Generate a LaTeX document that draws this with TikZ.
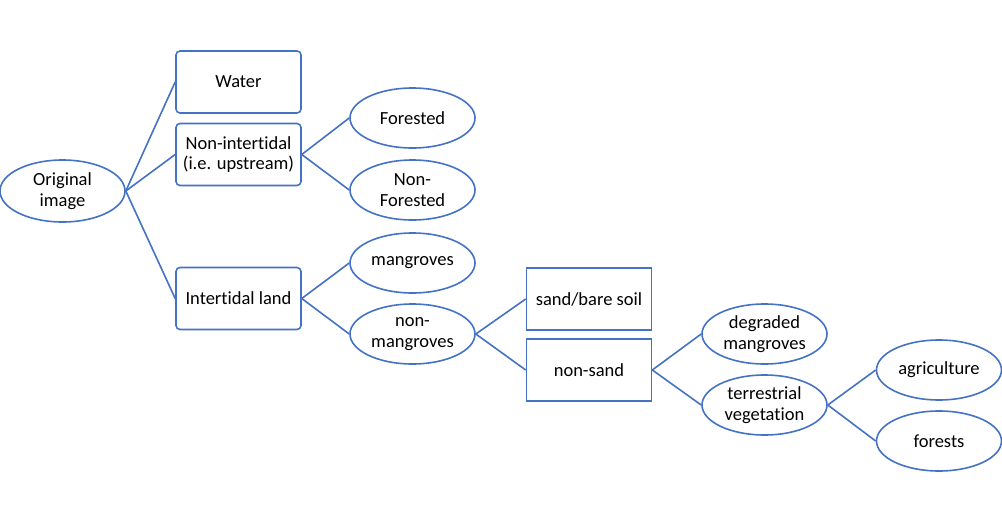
\documentclass[tikz,border=0pt]{standalone}
\usepackage{fontspec}
\setmainfont{Carlito}[Ligatures=NoCommon]
\usetikzlibrary{shapes.geometric}
\definecolor{edge}{HTML}{4472C4}
\begin{document}
\begin{tikzpicture}[x=1pt,y=-1pt,
  every node/.style={font=\fontsize{18.5}{20.5}\selectfont, align=center, text=black},
  rbox/.style={draw=edge, line width=1.6pt, rounded corners=4pt, minimum width=125pt, minimum height=62pt, inner sep=0pt},
  sbox/.style={draw=edge, line width=1.6pt, minimum width=125pt, minimum height=62pt, inner sep=0pt},
  oval/.style={ellipse, draw=edge, line width=1.6pt, minimum width=125pt, minimum height=60pt, inner sep=0pt},
  conn/.style={draw=edge, line width=1.6pt}]
\useasboundingbox (0,0) rectangle (1002,525);
\node[oval, minimum height=62pt] (orig) at (62.5,191) {Original\\image};
\node[rbox] (water) at (238.5,82) {Water};
\node[rbox] (nonint) at (238.5,154.5) {Non-intertidal\\(i.e. upstream)};
\node[rbox] (inter) at (238.5,298.5) {Intertidal land};
\node[oval] (forested) at (412.5,118) {Forested};
\node[oval] (nonfor) at (412.5,190) {Non-\\Forested};
\node[oval] (mang) at (412.5,263) {mangroves};
\node[oval] (nonmang) at (412.5,334) {non-\\mangroves};
\node[sbox] (sand) at (589,299) {sand/bare soil};
\node[sbox] (nonsand) at (589,370) {non-sand};
\node[oval] (degr) at (764.5,334) {degraded\\mangroves};
\node[oval] (terr) at (764.5,405) {terrestrial\\vegetation};
\node[oval] (agri) at (939,370) {agriculture};
\node[oval] (forests) at (939,441) {forests};
\draw[conn] (orig.east) -- (water.west);
\draw[conn] (orig.east) -- (nonint.west);
\draw[conn] (orig.east) -- (inter.west);
\draw[conn] (nonint.east) -- (forested.west);
\draw[conn] (nonint.east) -- (nonfor.west);
\draw[conn] (inter.east) -- (mang.west);
\draw[conn] (inter.east) -- (nonmang.west);
\draw[conn] (nonmang.east) -- (sand.west);
\draw[conn] (nonmang.east) -- (nonsand.west);
\draw[conn] (nonsand.east) -- (degr.west);
\draw[conn] (nonsand.east) -- (terr.west);
\draw[conn] (terr.east) -- (agri.west);
\draw[conn] (terr.east) -- (forests.west);
\end{tikzpicture}
\end{document}
